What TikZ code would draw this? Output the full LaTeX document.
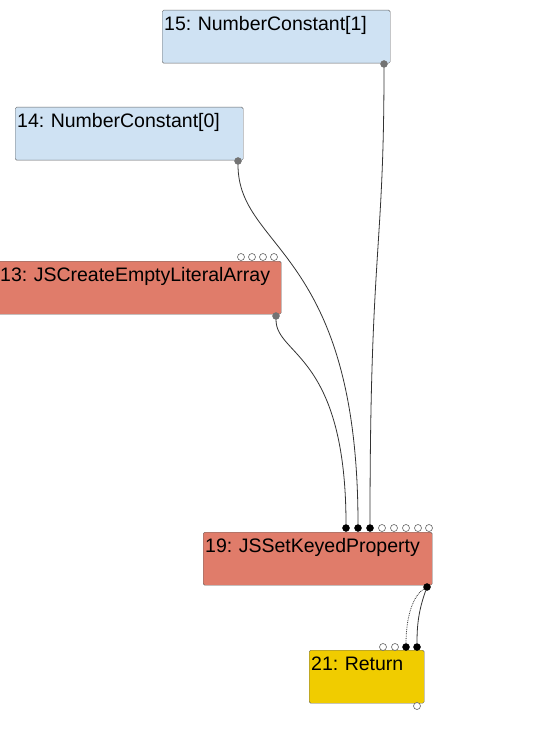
\documentclass[tikz,border=0pt]{standalone}
\usepackage{fontspec}
\setmainfont{Liberation Sans}
\usetikzlibrary{positioning}
\definecolor{constblue}{RGB}{207,226,243}
\definecolor{jsred}{RGB}{224,124,106}
\definecolor{ctrlyellow}{RGB}{240,204,0}
\frenchspacing

\begin{document}
\begin{tikzpicture}[x=1pt, y=-1pt,
        opnode/.style={rectangle, draw=black!60, rounded corners=1.5pt, anchor=north west,
                       inner xsep=2pt, inner ysep=0pt, text height=20pt, text depth=33pt,
                       align=left, font=\fontsize{19.5}{21}\selectfont},
        portin/.style={circle, inner sep=0pt, minimum size=7pt, draw=black, fill=black},
        portopen/.style={circle, inner sep=0pt, minimum size=7pt, draw=black!60, fill=white, line width=0.6pt},
        portout/.style={circle, inner sep=0pt, minimum size=7pt, draw=black!55, fill=black!55},
        edge/.style={draw=black!80, line width=0.8pt}
    ]
        \useasboundingbox (0,0) rectangle (552,735);

        % nodes
        \node[opnode, fill=constblue, text width=224pt] (n15) at (162,10) {15: NumberConstant[1]};
        \node[opnode, fill=constblue, text width=224pt] (n14) at (15,107) {14: NumberConstant[0]};
        \node[opnode, fill=jsred, text width=279pt] (n13) at (-2,261) {13: JSCreateEmptyLiteralArray};
        \node[opnode, fill=jsred, text width=225pt] (n19) at (203,532) {19: JSSetKeyedProperty};
        \node[opnode, fill=ctrlyellow, text width=111pt] (n21) at (309,650) {21: Return};

        % ports
        \node[portout] (o15) at (384,64) {};
        \node[portout] (o14) at (238,161) {};
        \node[portout] (o13) at (276,316) {};
        \foreach \x in {241,252,263,274} \node[portopen] (u13-\x) at (\x,257) {};

        \node[portin] (i19a) at (346,528) {};
        \node[portin] (i19b) at (358,528) {};
        \node[portin] (i19c) at (370,528) {};
        \foreach \x in {382,394,406,418,429} \node[portopen] (u19-\x) at (\x,528) {};
        \node[portin] (o19) at (427,587) {};

        \node[portopen] (u21a) at (383,647) {};
        \node[portopen] (u21b) at (395,647) {};
        \node[portin] (i21a) at (406,647) {};
        \node[portin] (i21b) at (417,647) {};
        \node[portopen] (u21c) at (417,706) {};

        % edges
        \draw[edge] (o15) .. controls +(0,190) and +(0,-280) .. (i19c);
        \draw[edge] (o14) .. controls +(0,90) and +(0,-280) .. (i19b);
        \draw[edge] (o13) .. controls +(0,40) and +(0,-175) .. (i19a);
        \draw[edge] (o19) .. controls +(-9,25) and +(0,-20) .. (i21b);
        \draw[edge, densely dotted] (o19) .. controls +(-16,10) and +(0,-25) .. (i21a);
    \end{tikzpicture}
\end{document}
